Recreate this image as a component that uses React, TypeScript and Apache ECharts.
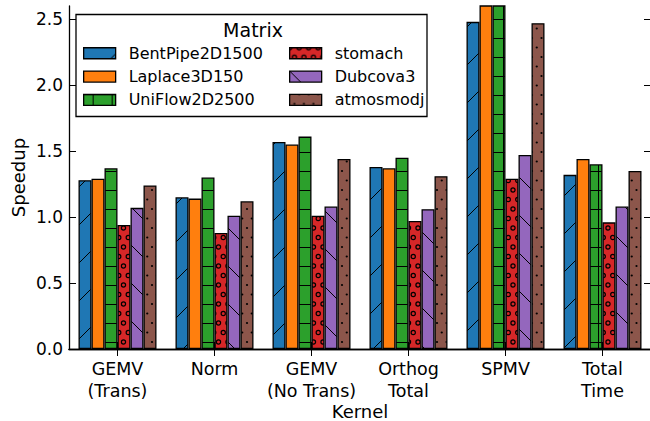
import React, { useEffect, useRef } from "react";
import * as echarts from "echarts";

const categories = ["GEMV\n(Trans)", "Norm", "GEMV\n(No Trans)", "Orthog\nTotal", "SPMV", "Total\nTime"];
const seriesNames = ["BentPipe2D1500", "Laplace3D150", "UniFlow2D2500", "stomach", "Dubcova3", "atmosmodj"];
const bentPipe = [1.28, 1.15, 1.57, 1.38, 2.48, 1.32];
const laplace = [1.29, 1.14, 1.55, 1.37, 2.75, 1.44];
const uniFlow = [1.37, 1.30, 1.61, 1.45, 2.7, 1.40];
const stomach = [0.94, 0.88, 1.01, 0.97, 1.29, 0.96];
const dubcova = [1.07, 1.01, 1.08, 1.06, 1.47, 1.08];
const atmosmodj = [1.24, 1.12, 1.44, 1.31, 2.47, 1.35];
const yTicks = [0, 0.5, 1.0, 1.5, 2.0, 2.5];

const colors = ["#1f77b4", "#ff7f0e", "#2ca02c", "#d62728", "#9467bd", "#8c564b"];
const hatches = ["slash", "none", "plus", "circle", "backslash", "dot"];

function makePattern(kind: string, color: string): any {
  if (kind === "none") return color;
  const size = kind === "slash" || kind === "backslash" ? 38 : 19;
  const c = document.createElement("canvas");
  c.width = size;
  c.height = size;
  const ctx = c.getContext("2d")!;
  ctx.fillStyle = color;
  ctx.fillRect(0, 0, size, size);
  ctx.strokeStyle = "#000";
  ctx.fillStyle = "#000";
  ctx.lineWidth = 1;
  if (kind === "slash") {
    ctx.beginPath();
    for (const x0 of [-size, 0, size]) {
      ctx.moveTo(x0, size);
      ctx.lineTo(x0 + size, 0);
    }
    ctx.stroke();
  } else if (kind === "backslash") {
    ctx.beginPath();
    for (const x0 of [-size, 0, size]) {
      ctx.moveTo(x0, 0);
      ctx.lineTo(x0 + size, size);
    }
    ctx.stroke();
  } else if (kind === "plus") {
    ctx.beginPath();
    ctx.moveTo(0, 0.5);
    ctx.lineTo(size, 0.5);
    ctx.moveTo(9.5, 0);
    ctx.lineTo(9.5, size);
    ctx.stroke();
  } else if (kind === "circle" || kind === "dot") {
    const pts: number[][] = [];
    for (const x of [0, 9.5, 19]) for (const y of [0, 19]) pts.push([x, y]);
    pts.push([4.75, 9.5], [14.25, 9.5]);
    for (const [x, y] of pts) {
      ctx.beginPath();
      if (kind === "circle") {
        ctx.lineWidth = 1.2;
        ctx.arc(x, y, 2.1, 0, Math.PI * 2);
        ctx.stroke();
      } else {
        ctx.arc(x, y, 1.1, 0, Math.PI * 2);
        ctx.fill();
      }
    }
  }
  return { image: c, repeat: "repeat", imageWidth: size, imageHeight: size };
}

const FONT = "DejaVu Sans";

export default function App() {
  const ref = useRef<HTMLDivElement>(null);
  useEffect(() => {
    document.body.style.margin = "0";
    const chart = echarts.init(ref.current!, undefined, { renderer: "svg" });
    const allData = [bentPipe, laplace, uniFlow, stomach, dubcova, atmosmodj];
    const series = seriesNames.map((name, i) => ({
      type: "bar",
      name,
      data: allData[i],
      barWidth: 13,
      barGap: "0%",
      clip: true,
      silent: true,
      emphasis: { disabled: true },
      itemStyle: { color: makePattern(hatches[i], colors[i]), borderColor: "#000", borderWidth: 1.3 },
    }));
    const axisLine = { show: true, lineStyle: { color: "#000", width: 1.3 } };
    const legendCommon = {
      orient: "vertical",
      top: 44,
      itemWidth: 32,
      itemHeight: 11,
      itemGap: 4.8,
      icon: "rect",
      selectedMode: false,
      padding: 0,
      itemStyle: { borderColor: "#000", borderWidth: 1.3 },
      textStyle: { fontFamily: FONT, fontSize: 16, color: "#000", lineHeight: 18.5, padding: [0, 0, 0, 8] },
    };
    chart.setOption({
      animation: false,
      grid: { left: 69, top: 6, width: 582, height: 343, containLabel: false, outerBoundsMode: "none" },
      legend: [
        { ...legendCommon, left: 83, data: seriesNames.slice(0, 3) },
        { ...legendCommon, left: 289, data: seriesNames.slice(3) },
      ],
      graphic: [
        {
          type: "rect",
          z: 3,
          shape: { x: 76, y: 14.5, width: 351, height: 102 },
          style: { fill: "#fff", stroke: "#000", lineWidth: 1.3 },
        },
        {
          type: "text",
          z: 5,
          x: 253,
          y: 30,
          style: { text: "Matrix", fontFamily: FONT, fontSize: 19, fill: "#000", align: "center", verticalAlign: "middle" },
        },
      ],
      xAxis: [
        {
          type: "category",
          data: categories,
          position: "bottom",
          name: "Kernel",
          nameLocation: "middle",
          nameGap: 53,
          nameMoveOverlap: false,
          nameTextStyle: { fontFamily: FONT, fontSize: 18, color: "#000" },
          axisLine,
          axisTick: { show: true, inside: true, alignWithLabel: true, length: 7, lineStyle: { color: "#000" } },
          axisLabel: { interval: 0, fontFamily: FONT, fontSize: 17.5, lineHeight: 22, margin: 9, color: "#000" },
          splitLine: { show: false },
        },
        {
          type: "category",
          data: categories,
          position: "top",
          axisLine,
          axisTick: { show: true, inside: true, alignWithLabel: true, length: 7, lineStyle: { color: "#000" } },
          axisLabel: { show: false },
          splitLine: { show: false },
        },
      ],
      yAxis: [
        {
          type: "value",
          min: 0,
          max: 2.6,
          interval: 0.5,
          position: "left",
          name: "Speedup",
          nameLocation: "middle",
          nameGap: 42,
          nameMoveOverlap: false,
          nameTextStyle: { fontFamily: FONT, fontSize: 18, color: "#000" },
          axisLine,
          axisTick: { show: true, inside: true, length: 7, customValues: yTicks, lineStyle: { color: "#000" } },
          axisLabel: {
            customValues: yTicks,
            formatter: (v: number) => v.toFixed(1),
            fontFamily: FONT,
            fontSize: 17,
            color: "#000",
            margin: 6,
          },
          splitLine: { show: false },
        },
        {
          type: "value",
          min: 0,
          max: 2.6,
          interval: 0.5,
          position: "right",
          axisLine,
          axisTick: { show: true, inside: true, length: 7, customValues: yTicks, lineStyle: { color: "#000" } },
          axisLabel: { show: false },
          splitLine: { show: false },
        },
      ],
      series,
    });
    return () => chart.dispose();
  }, []);
  return <div ref={ref} style={{ width: 650, height: 421 }} />;
}
